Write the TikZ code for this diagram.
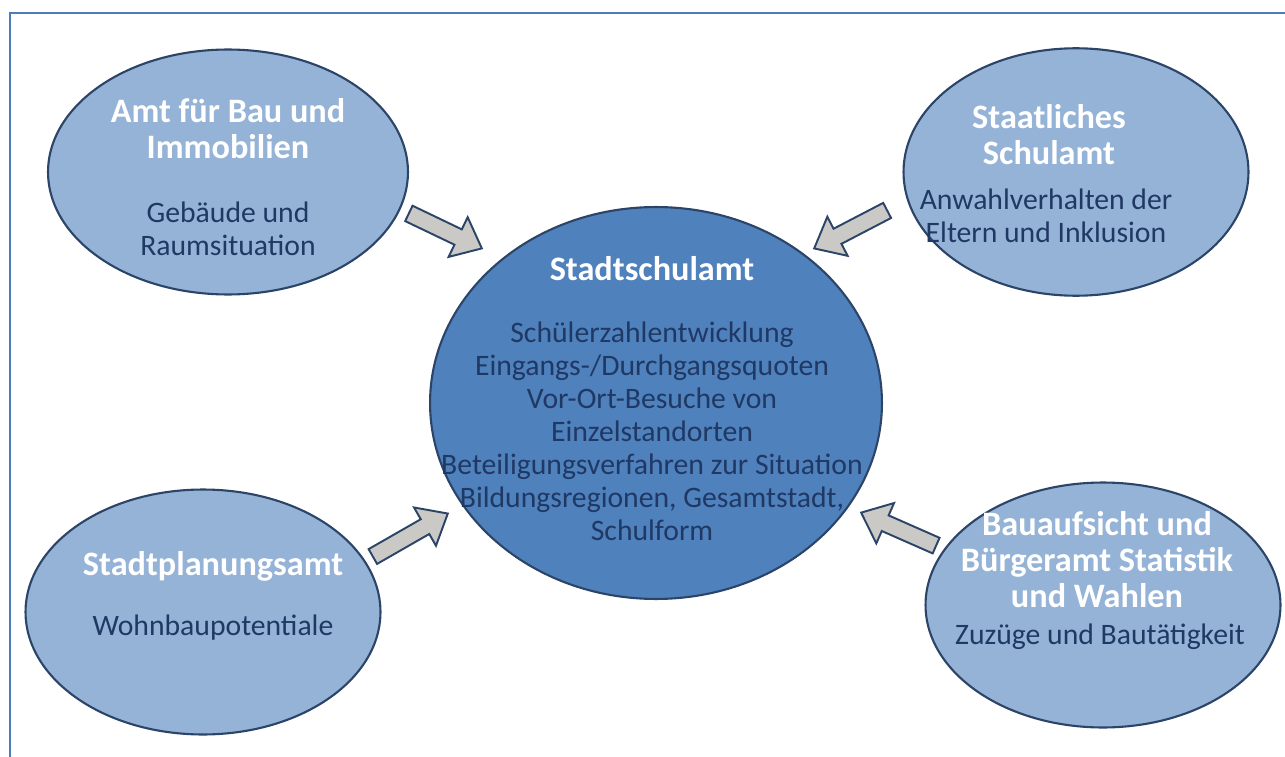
\documentclass[tikz,border=0pt]{standalone}
\usepackage{fontspec}
\setmainfont{Carlito}
\usetikzlibrary{shapes.geometric,shapes.arrows,calc}

\definecolor{amtlight}{HTML}{95B3D7}
\definecolor{amtdark}{HTML}{4F81BD}
\definecolor{amtline}{HTML}{2B4468}
\definecolor{amttext}{HTML}{1F3864}
\definecolor{pfeilfill}{HTML}{CBC9C6}
\definecolor{rahmen}{HTML}{4A7EBB}

% block arrow from one named point to another
\newcommand{\blockarrow}[2]{%
  \path let \p1=(#1), \p2=(#2),
    \n1={atan2(\y2-\y1,\x2-\x1)}, \n2={veclen(\x2-\x1,\y2-\y1)} in
    node[pfeil, minimum height=\n2, rotate=\n1, anchor=tail] at (\p1) {};
}

\begin{document}
\begin{tikzpicture}[
    x=0.02cm, y=-0.02cm,
    amt/.style={ellipse, fill=amtlight, draw=amtline, line width=1.2pt, inner sep=0pt},
    zentrale/.style={ellipse, fill=amtdark, draw=amtline, line width=1.2pt, inner sep=0pt},
    kopf/.style={align=center, text=white, font=\bfseries\fontsize{19.5}{20.5}\selectfont},
    inhalt/.style={align=center, text=amttext, font=\fontsize{16.9}{18.8}\selectfont},
    pfeil/.style={single arrow, fill=pfeilfill, draw=amtline, line width=1.1pt,
      inner xsep=0pt, inner ysep=4.3pt, single arrow head extend=7.7pt,
      single arrow tip angle=80},
]

% page size and frame
\useasboundingbox (0,0) rectangle (1285,757);
\draw[rahmen, line width=1.7pt] (10,757) -- (10,13) -- (1285,13);

% Ellipses
\node[amt, minimum width=7.2cm, minimum height=4.9cm] (bau) at (228,172) {};
\node[amt, minimum width=6.9cm, minimum height=4.95cm] (schulamt) at (1076,172) {};
\node[amt, minimum width=7.1cm, minimum height=4.9cm] (planung) at (203,612) {};
\node[amt, minimum width=7.1cm, minimum height=4.9cm] (aufsicht) at (1103,605) {};
\node[zentrale, minimum width=9.04cm, minimum height=7.84cm] (stadt) at (656,403) {};

% Texts
\node[kopf] (bau-kopf) at (228,129) {Amt für Bau und\\Immobilien};
\node[inhalt] (bau-inhalt) at (228,229) {Gebäude und\\Raumsituation};

\node[kopf] (schulamt-kopf) at (1049,135) {Staatliches\\Schulamt};
\node[inhalt] (schulamt-inhalt) at (1046,216) {Anwahlverhalten der\\Eltern und Inklusion};

\node[kopf] (stadt-kopf) at (652,269) {Stadtschulamt};
\node[inhalt] (stadt-inhalt) at (652,431) {Schülerzahlentwicklung\\Eingangs-/Durchgangsquoten\\
  Vor-Ort-Besuche von\\Einzelstandorten\\Beteiligungsverfahren zur Situation\\
  Bildungsregionen, Gesamtstadt,\\Schulform};

\node[kopf] (planung-kopf) at (213,566) {Stadtplanungsamt};
\node[inhalt] (planung-inhalt) at (213,628) {Wohnbaupotentiale};

\node[kopf] (aufsicht-kopf) at (1097,560) {Bauaufsicht und\\Bürgeramt Statistik\\und Wahlen};
\node[inhalt] (aufsicht-inhalt) at (1100,637) {Zuzüge und Bautätigkeit};

% Arrow ends
\coordinate (p1s) at (408,213); \coordinate (p1e) at (481,248);
\coordinate (p2s) at (888,210); \coordinate (p2e) at (815,248);
\coordinate (p3s) at (372,557); \coordinate (p3e) at (447,514);
\coordinate (p4s) at (937,546); \coordinate (p4e) at (862,513);

% Block arrows towards Stadtschulamt
\blockarrow{p1s}{p1e}
\blockarrow{p2s}{p2e}
\blockarrow{p3s}{p3e}
\blockarrow{p4s}{p4e}

\end{tikzpicture}
\end{document}
